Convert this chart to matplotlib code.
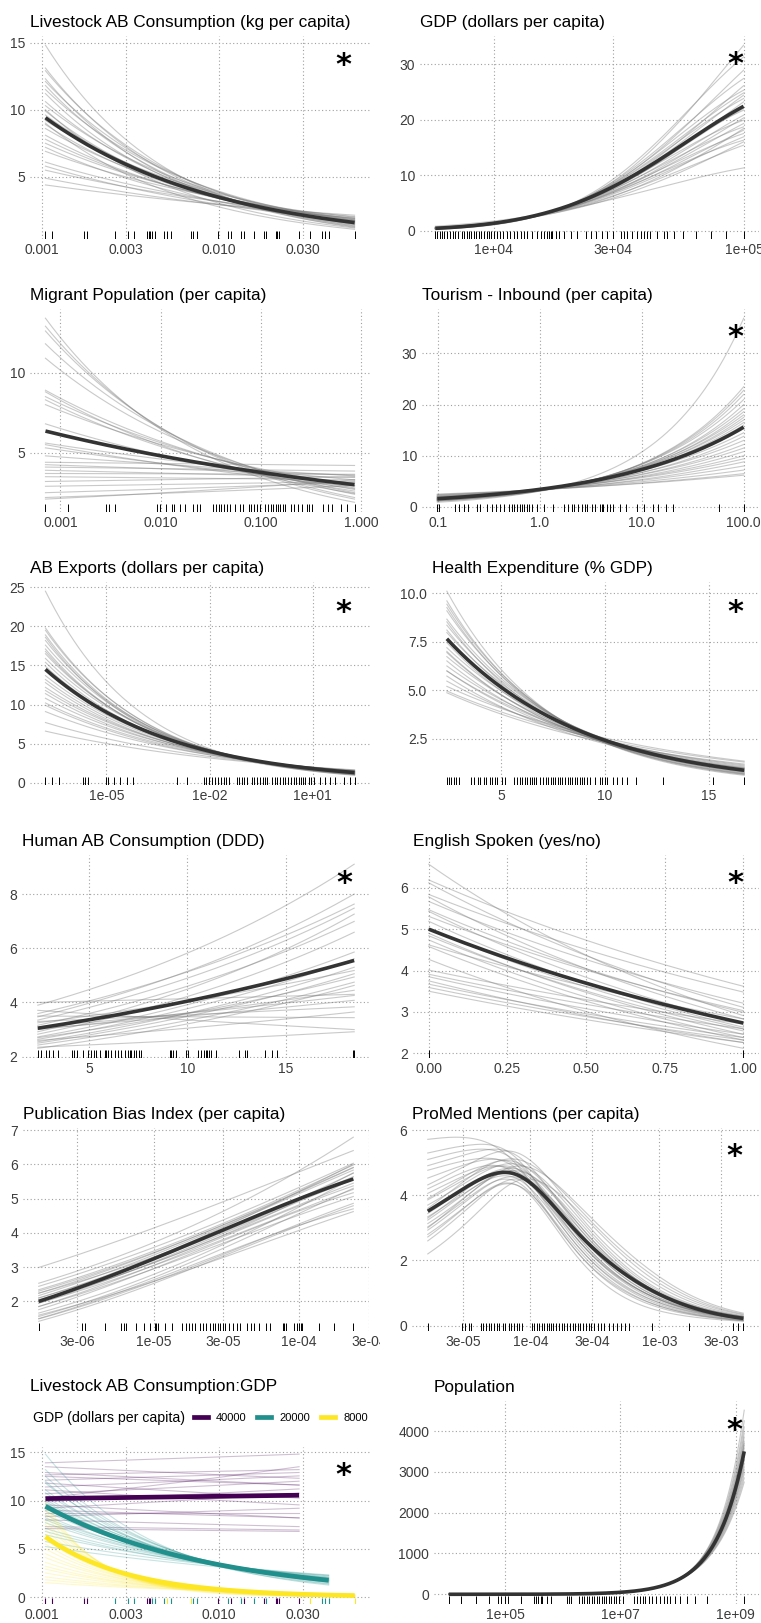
import numpy as np
import matplotlib
matplotlib.use("Agg")
import matplotlib.pyplot as plt
from matplotlib.lines import Line2D
from matplotlib.ticker import NullLocator
from matplotlib.transforms import Bbox, TransformedBbox

plt.rcParams['font.family'] = ['Liberation Sans', 'DejaVu Sans']

W, H = 761, 1623
ROW = 273

# ---------------- data ----------------
# Livestock AB consumption
liv_rug = [0.00105, 0.00114, 0.00174, 0.0018, 0.0026, 0.00306, 0.0033, 0.00392, 0.00401, 0.00409,
           0.00418, 0.00437, 0.00491, 0.00508, 0.00536, 0.00695, 0.00719, 0.00757, 0.00995, 0.0113,
           0.0117, 0.0133, 0.0138, 0.0157, 0.0179, 0.0185, 0.021, 0.0214, 0.0219, 0.0284,
           0.0328, 0.0382, 0.0399, 0.0417, 0.0584]
liv_left = [14.8, 13.1, 12.9, 12.3, 12.1, 11.8, 11.5, 11.2, 10.6, 10.3, 9.9, 9.6, 9.2, 8.9,
            8.6, 8.1, 7.5, 7.2, 6.9, 6.1, 5.8, 5.5, 4.9, 4.4, 10.0, 9.0, 7.8]
liv_right = [1.25, 1.35, 1.5, 1.3, 1.6, 1.45, 1.7, 1.4, 1.55, 1.75, 1.5, 1.65, 1.85, 1.6,
             1.8, 1.7, 1.9, 1.65, 2.0, 1.9, 1.75, 2.05, 1.95, 2.15, 1.2, 1.1, 1.8]
liv_mean = [9.4, 1.6]

# GDP
gdp_rug = [5846, 5933, 6080, 6210, 6350, 6500, 6710, 6870, 7030, 7180, 7470, 7630, 7780, 7940,
           8120, 8320, 8520, 8710, 8900, 9120, 9350, 9550, 9760, 10000, 10310, 10570, 10900,
           11240, 11590, 12020, 12400, 12780, 13180, 13590, 14230, 14900, 15370, 15850, 16340,
           16600, 16860, 17130, 17660, 18210, 19060, 20280, 21540, 23270, 24370, 25510, 27120,
           28400, 30000, 32290, 33090, 34150, 35730, 37400, 38610, 39810, 41050, 42070, 44990,
           47860, 49330, 52480, 56640, 64120, 73560, 84480, 99300]
gdp_mid_x = 30000
gdp_left = [0.3, 0.25, 0.35, 0.3, 0.4, 0.3, 0.4, 0.35, 0.45, 0.4, 0.45, 0.4, 0.5, 0.45, 0.55,
            0.5, 0.55, 0.5, 0.6, 0.8, 0.4, 0.35, 0.6, 0.5, 0.65]
gdp_mid = [8.9, 9.3, 8.5, 8.8, 8.0, 8.6, 7.9, 8.3, 7.6, 8.1, 7.4, 7.8, 7.0, 7.5, 6.8, 7.2, 6.6,
           6.9, 6.3, 5.7, 7.7, 8.4, 6.2, 7.1, 5.9]
gdp_right = [33.4, 31.3, 28.9, 27.4, 26.1, 25.3, 24.4, 23.8, 23.2, 21.7, 20.8, 19.9, 19.3, 18.7,
             18.1, 17.5, 16.9, 16.3, 15.4, 11.3, 22.0, 24.8, 18.4, 20.3, 16.0]
gdp_mean = [0.42, 7.95, 22.4]

# Migrant population
mig_rug = [7.1e-4, 1.19e-3, 2.87e-3, 3.03e-3, 3.48e-3, 9.2e-3, 9.77e-3, 0.0113, 0.013, 0.0135,
           0.0157, 0.0176, 0.021, 0.023, 0.0248, 0.0333, 0.0355, 0.038, 0.040, 0.043, 0.046,
           0.049, 0.0555, 0.0612, 0.0662, 0.0753, 0.080, 0.086, 0.091, 0.0984, 0.110, 0.117,
           0.125, 0.133, 0.140, 0.148, 0.156, 0.165, 0.175, 0.199, 0.215, 0.237, 0.256, 0.287,
           0.30, 0.322, 0.421, 0.466, 0.51, 0.627, 0.719, 0.859]
mig_left = [13.4, 12.9, 12.6, 11.8, 10.9, 8.9, 8.8, 8.5, 8.3, 8.0, 5.6, 5.5, 5.3, 4.4, 4.25,
            4.1, 3.9, 3.7, 3.5, 3.2, 2.9, 2.5, 2.2, 2.1, 6.8, 4.8]
mig_right = [1.9, 2.1, 2.2, 2.4, 2.5, 2.7, 2.45, 2.8, 2.6, 2.95, 3.3, 2.9, 3.1, 4.2, 3.6, 3.85,
             3.45, 3.65, 3.3, 3.5, 3.2, 3.15, 2.95, 3.3, 2.75, 3.55]
mig_mean = [6.35, 3.0]

# Tourism inbound
tou_rug = [0.0985, 0.102, 0.146, 0.162, 0.182, 0.196, 0.243, 0.261, 0.304, 0.34, 0.375, 0.41,
           0.449, 0.495, 0.533, 0.562, 0.597, 0.634, 0.668, 0.705, 0.748, 0.782, 0.837, 0.937,
           1.09, 1.34, 1.71, 1.87, 2.06, 2.17, 2.39, 2.58, 2.78, 2.93, 3.23, 3.48, 3.90, 4.05,
           4.2, 4.53, 4.88, 5.27, 6.12, 7.0, 8.9, 10.4, 12.8, 14.5, 17.3, 20.3, 57.3, 100]
tou_left = [0.9, 1.1, 1.15, 1.2, 1.3, 1.25, 1.4, 1.35, 1.5, 1.45, 1.55, 1.5, 1.6, 1.65, 1.7,
            1.6, 1.8, 1.75, 1.9, 1.85, 2.0, 2.1, 2.0, 2.2, 2.3, 2.4, 2.5]
tou_right = [36.9, 23.5, 22.8, 22.0, 21.0, 20.0, 19.2, 18.6, 18.0, 17.5, 17.0, 16.5, 16.0, 15.3,
             14.5, 13.8, 13.0, 12.2, 11.5, 10.8, 10.0, 9.4, 8.8, 8.0, 7.2, 6.5, 6.2]
tou_mean = [1.6, 15.6]

# AB exports
abx_rug = [1.7e-7, 2.64e-7, 4.13e-7, 2.1e-6, 2.46e-6, 2.87e-6, 1e-5, 1.09e-5, 1.63e-5, 2.55e-5,
           3.98e-5, 5.94e-5, 1.13e-3, 2.2e-3, 7.0e-3, 8.0e-3, 9.4e-3, 0.0115, 0.014, 0.017,
           0.021, 0.026, 0.031, 0.036, 0.062, 0.072, 0.085, 0.10, 0.12, 0.17, 0.2, 0.24, 0.3,
           0.36, 0.42, 0.46, 0.65, 0.78, 0.9, 1.13, 1.35, 1.6, 1.9, 2.3, 2.8, 3.3, 3.9, 4.6,
           5.3, 6.0, 7.5, 8.6, 10.5, 15.7, 22.9, 32, 44.7, 78, 122, 163]
abx_left = [24.5, 19.8, 19.5, 18.6, 18.2, 17.6, 17.1, 16.5, 15.9, 15.4, 13.7, 12.8, 11.8, 11.4,
            10.8, 9.9, 9.1, 7.7, 6.6, 16.8, 14.9, 12.2, 10.2, 18.9, 13.2]
abx_right = [0.95, 1.05, 1.1, 1.0, 1.15, 1.2, 1.1, 1.25, 1.3, 1.2, 1.35, 1.3, 1.45, 1.4, 1.5,
             1.45, 1.55, 1.6, 1.65, 1.15, 1.25, 1.4, 1.5, 1.05, 1.35]
abx_mean = [14.5, 1.3]

# Health expenditure
hea_rug = [2.38, 2.47, 2.58, 2.71, 2.84, 2.97, 3.54, 3.70, 3.86, 3.99, 4.15, 4.28, 4.44, 4.55,
           4.71, 4.82, 5.03, 5.19, 5.62, 5.75, 5.9, 6.0, 6.13, 6.23, 6.39, 6.5, 6.6, 6.7, 6.87,
           7.03, 7.15, 7.25, 7.38, 7.5, 7.6, 7.72, 7.85, 7.95, 8.08, 8.2, 8.3, 8.42, 8.55, 8.65,
           8.78, 8.9, 9.0, 9.12, 9.27, 9.51, 9.75, 9.88, 9.99, 10.12, 10.39, 10.58, 10.84, 11.06,
           11.48, 12.79, 15.19, 16.71]
hea_left = [10.1, 9.43, 9.26, 9.09, 8.66, 8.52, 8.35, 7.97, 7.45, 7.19, 6.94, 6.73, 6.51, 6.25,
            5.99, 5.73, 5.47, 4.96, 4.87, 8.1, 7.0, 6.0, 9.6, 5.2]
hea_right = [0.62, 0.7, 0.68, 0.75, 0.8, 0.72, 0.85, 0.9, 0.82, 0.95, 0.88, 1.0, 0.92, 1.05,
             1.1, 0.98, 1.15, 1.3, 1.2, 0.78, 0.86, 1.0, 0.66, 1.35]
hea_mean = [7.65, 0.88]

# Human AB consumption
hum_rug = [2.41, 2.58, 2.83, 2.97, 3.2, 3.42, 4.15, 4.27, 4.39, 4.69, 4.95, 5.12, 5.25, 5.37,
           5.54, 5.8, 5.88, 5.97, 6.14, 6.31, 6.47, 6.64, 6.81, 6.98, 7.07, 7.15, 7.29, 7.41,
           7.54, 7.66, 9.1, 9.19, 9.27, 9.41, 9.95, 10.03, 10.54, 10.71, 10.83, 10.93, 11.0,
           11.1, 11.22, 11.47, 12.63, 12.92, 13.0, 13.93, 14.27, 14.53, 18.39, 18.46]
hum_left = [3.9, 4.0, 3.71, 3.59, 3.47, 3.35, 3.16, 3.04, 2.92, 2.83, 2.73, 2.64, 2.55, 2.43,
            2.31, 3.5, 3.25, 2.7, 3.0, 2.6, 3.1, 2.5, 3.3, 2.35]
hum_right = [9.1, 4.3, 3.0, 7.63, 8.0, 7.48, 6.99, 4.08, 7.26, 6.59, 5.86, 5.61, 5.3, 4.75,
             4.63, 3.44, 5.18, 4.94, 4.45, 3.65, 4.26, 5.06, 3.84, 2.92]
hum_mean = [3.05, 5.55]

# English spoken
eng_rug = [0, 1]
eng_left = [6.57, 6.19, 6.12, 5.84, 5.78, 5.67, 5.47, 5.43, 5.31, 5.19, 5.02, 4.9, 4.84, 4.74,
            4.62, 4.58, 4.27, 4.01, 3.91, 3.85, 3.75, 3.67, 3.59, 3.5]
eng_right = [2.91, 3.62, 3.11, 3.48, 2.83, 3.21, 2.99, 2.71, 3.03, 2.63, 2.59, 2.46, 2.54, 2.38,
             2.83, 2.32, 2.12, 2.71, 2.59, 2.46, 2.26, 2.38, 2.32, 2.26]
eng_mean = [5.0, 2.73]

# Publication bias index
pub_rug = [1.63e-6, 3.25e-6, 3.37e-6, 4.62e-6, 6.01e-6, 6.23e-6, 6.43e-6, 7.6e-6, 8.55e-6,
           9.4e-6, 1.02e-5, 1.04e-5, 1.07e-5, 1.19e-5, 1.34e-5, 1.57e-5, 1.67e-5, 1.75e-5,
           1.84e-5, 1.94e-5, 2.07e-5, 2.18e-5, 2.3e-5, 2.44e-5, 2.55e-5, 2.66e-5, 2.76e-5,
           2.86e-5, 2.99e-5, 3.11e-5, 3.28e-5, 3.49e-5, 3.72e-5, 3.92e-5, 4.36e-5, 4.67e-5,
           4.92e-5, 5.32e-5, 5.91e-5, 6.3e-5, 7.69e-5, 7.89e-5, 8.1e-5, 9.25e-5, 9.64e-5,
           1.0e-4, 1.03e-4, 1.05e-4, 1.37e-4, 1.74e-4, 2.35e-4]
pub_mid_x = 1.95e-5
pub_draws = [[2.99, 4.6, 6.4], [2.53, 4.25, 6.79], [2.44, 4.05, 6.03], [2.34, 3.95, 5.98],
             [2.24, 3.9, 5.91], [2.17, 3.85, 5.83], [2.1, 3.8, 6.0], [2.24, 3.75, 5.74],
             [2.1, 3.7, 5.64], [1.95, 3.65, 5.55], [2.0, 3.6, 5.45], [1.85, 3.55, 5.37],
             [1.95, 3.5, 5.27], [1.76, 3.45, 5.17], [1.85, 3.4, 5.06], [1.66, 3.3, 5.6],
             [1.56, 3.2, 5.3], [1.49, 3.05, 4.86], [1.42, 3.0, 4.79], [1.6, 3.0, 4.62],
             [1.5, 3.1, 4.7], [2.3, 3.9, 5.9], [2.05, 3.6, 5.75]]
pub_mean = [2.0, 3.75, 5.57]

# ProMed mentions (values at left end, 3.5e-5, 8e-5, 2.5e-4, 1e-3, right end)
pro_rug = [1.6e-5, 2.95e-5, 3.13e-5, 3.32e-5, 3.47e-5, 4.15e-5, 4.32e-5, 4.53e-5, 4.75e-5,
           4.95e-5, 5.26e-5, 5.48e-5, 5.75e-5, 6.1e-5, 6.4e-5, 6.8e-5, 7.08e-5, 7.51e-5,
           7.83e-5, 8.22e-5, 8.62e-5, 1.03e-4, 1.07e-4, 1.12e-4, 1.17e-4, 1.23e-4, 1.28e-4,
           1.34e-4, 1.39e-4, 1.45e-4, 1.51e-4, 1.58e-4, 1.68e-4, 1.76e-4, 1.83e-4, 1.91e-4,
           2.03e-4, 2.13e-4, 2.23e-4, 2.33e-4, 2.44e-4, 2.58e-4, 2.7e-4, 2.83e-4, 2.97e-4,
           3.13e-4, 3.32e-4, 3.53e-4, 3.75e-4, 4.1e-4, 4.35e-4, 4.67e-4, 5.05e-4, 5.45e-4,
           5.85e-4, 8.77e-4, 1.69e-3, 3.7e-3, 4.05e-3, 4.48e-3]
pro_knots_x = [3.5e-5, 8e-5, 2.5e-4, 1.0e-3]
pro_draws = [[5.72, 5.75, 4.9, 2.3, 0.7, 0.2], [5.1, 5.4, 5.0, 2.6, 0.8, 0.22],
             [4.91, 5.3, 5.2, 2.9, 0.95, 0.25], [4.77, 5.1, 4.8, 2.5, 0.75, 0.2],
             [4.53, 5.0, 4.9, 2.8, 0.9, 0.24], [4.32, 5.0, 5.3, 3.3, 1.2, 0.3],
             [4.06, 4.7, 4.7, 2.4, 0.7, 0.18], [3.86, 4.6, 4.8, 2.7, 0.85, 0.22],
             [3.7, 4.5, 4.95, 3.2, 1.1, 0.28], [3.55, 4.4, 4.6, 2.5, 0.8, 0.2],
             [3.44, 4.35, 4.8, 3.0, 1.0, 0.26], [3.34, 4.2, 4.5, 2.3, 0.65, 0.17],
             [3.24, 4.2, 4.65, 2.8, 0.95, 0.25], [3.13, 4.1, 4.9, 3.6, 1.5, 0.38],
             [3.03, 4.0, 4.4, 2.1, 0.6, 0.16], [2.93, 3.95, 4.55, 2.7, 0.85, 0.22],
             [2.72, 3.8, 4.3, 1.95, 0.45, 0.13], [2.2, 3.3, 4.45, 3.4, 1.3, 0.33],
             [3.0, 4.1, 4.75, 3.1, 1.05, 0.27], [3.6, 4.6, 5.1, 3.5, 1.4, 0.35],
             [2.8, 3.8, 4.3, 2.2, 0.6, 0.15], [4.2, 4.8, 4.6, 2.1, 0.55, 0.15],
             [3.3, 4.3, 4.7, 2.6, 0.8, 0.21], [3.9, 4.7, 5.0, 3.0, 1.0, 0.26],
             [2.6, 3.7, 4.5, 2.9, 1.0, 0.28], [5.3, 5.55, 5.1, 2.5, 0.8, 0.21]]
pro_mean = [3.51, 4.35, 4.62, 2.72, 0.96, 0.22]

# Population
pop_rug = [1.05e4, 1.71e4, 3.11e4, 5.29e4, 7.37e4, 8.41e4, 1.0e5, 1.1e5, 1.87e5, 3.17e5, 3.48e5,
           3.77e5, 4.14e5, 4.42e5, 5.4e5, 6.16e5, 1.2e6, 1.28e6, 1.37e6, 1.9e6, 2.12e6, 2.3e6,
           2.6e6, 2.9e6, 3.2e6, 3.5e6, 3.9e6, 4.3e6, 4.7e6, 5.2e6, 5.7e6, 6.3e6, 7.0e6, 7.6e6,
           8.3e6, 9.3e6, 1.1e7, 1.7e7, 1.95e7, 2.2e7, 2.5e7, 2.7e7, 3.1e7, 3.6e7, 4.2e7, 4.9e7,
           5.6e7, 6.5e7, 7.4e7, 8.9e7, 1.09e8, 1.42e8, 1.98e8, 3.15e8, 1.41e9]
pop_left = [0.06, 0.08, 0.09, 0.1, 0.11, 0.12, 0.12, 0.13, 0.14, 0.15, 0.16, 0.17, 0.18, 0.19,
            0.2, 0.22, 0.24, 0.27, 0.1, 0.15]
pop_right = [4510, 4250, 4100, 3950, 3850, 3750, 3650, 3580, 3500, 3420, 3350, 3280, 3200, 3120,
             3050, 2950, 2850, 2750, 3700, 3300]
pop_mean = [0.13, 3500]

# Livestock AB consumption : GDP interaction (40000, 20000, 8000)
int_labels = ["40000", "20000", "8000"]
int_rug_group = [0, 0, 0, 0, 1, 1, 1, 0, 0, 0, 1, 1, 1, 2, 1, 2, 1, 1, 0, 1,
                 0, 1, 0, 1, 0, 1, 0, 0, 0, 0, 2, 1, 1, 1, 2]
g40_left = [13.9, 13.5, 12.65, 12.5, 12.1, 11.8, 11.4, 11.1, 10.7, 9.9, 9.55, 9.2, 8.7, 8.35,
            8.0, 7.3, 7.1, 10.3, 12.9, 9.0]
g40_right = [14.8, 12.3, 13.2, 11.6, 12.9, 10.25, 12.55, 9.55, 12.0, 11.2, 8.2, 10.75, 8.7, 9.2,
             7.3, 6.95, 6.8, 13.5, 11.6, 8.2]
g40_mean = [10.2, 10.55]
g20_left = [14.8, 13.2, 12.5, 12.0, 11.8, 11.1, 10.8, 10.4, 10.1, 9.7, 9.2, 8.9, 8.5, 8.2, 7.7,
            7.1, 6.8, 6.45, 5.75, 5.24, 9.9, 8.0]
g20_right = [1.25, 1.4, 1.5, 1.35, 1.6, 1.55, 1.7, 1.65, 1.8, 1.75, 1.85, 1.9, 1.8, 2.0, 1.95,
             2.1, 2.05, 2.2, 2.3, 2.25, 1.7, 1.9]
g20_mean = [9.4, 1.75]
g8_left = [9.9, 9.4, 9.0, 8.5, 7.9, 7.5, 7.0, 6.5, 6.0, 5.5, 5.0, 4.5, 4.1, 3.6, 3.2, 2.9, 2.5,
           2.1, 1.8, 1.5]
g8_right = [0.03, 0.04, 0.05, 0.06, 0.07, 0.08, 0.09, 0.1, 0.11, 0.12, 0.14, 0.15, 0.17, 0.19,
            0.2, 0.22, 0.25, 0.27, 0.3, 0.33]
g8_mean = [6.25, 0.16]

# ---------------- helpers ----------------
GREY = '#7a7a7a'
DARK = '#333333'
VIR = ['#440154', '#21908C', '#FDE725']
TICK_FS = 10

fig = plt.figure(figsize=(W / 100, H / 100), dpi=100)


def add_ax(left, top, right, bottom):
    return fig.add_axes([left / W, 1 - bottom / H, (right - left) / W, (bottom - top) / H])


def nat_spline(t, y, tt):
    # natural cubic spline through the knots
    n = len(t)
    h = np.diff(t)
    A = np.zeros((n, n))
    b = np.zeros(n)
    A[0, 0] = A[-1, -1] = 1
    for i in range(1, n - 1):
        A[i, i - 1], A[i, i], A[i, i + 1] = h[i - 1], 2 * (h[i - 1] + h[i]), h[i]
        b[i] = 3 * ((y[i + 1] - y[i]) / h[i] - (y[i] - y[i - 1]) / h[i - 1])
    c = np.linalg.solve(A, b)
    bb = (y[1:] - y[:-1]) / h - h * (2 * c[:-1] + c[1:]) / 3
    dd = (c[1:] - c[:-1]) / (3 * h)
    k = np.clip(np.searchsorted(t, tt) - 1, 0, n - 2)
    dx = tt - t[k]
    return y[k] + bb[k] * dx + c[k] * dx ** 2 + dd[k] * dx ** 3


def curve(xa, ya, logx, n=260):
    t = np.log10(xa) if logx else np.asarray(xa, float)
    ly = np.log(np.asarray(ya, float))
    tt = np.linspace(t[0], t[-1], n)
    if len(ya) > 3:
        yy = nat_spline(t, ly, tt)
    else:
        yy = np.polyval(np.polyfit(t, ly, len(ya) - 1), tt)
    return (10 ** tt if logx else tt), np.exp(yy)


def expand(lo, hi, logx=False):
    if logx:
        lo, hi = np.log10(lo), np.log10(hi)
    d = (hi - lo) * 0.05
    lo, hi = lo - d, hi + d
    return (10 ** lo, 10 ** hi) if logx else (lo, hi)


def style(ax, xt, xl, yt, yl, logx):
    if logx:
        ax.set_xscale('log')
    ax.set_xticks(xt)
    ax.set_xticklabels(xl)
    ax.set_yticks(yt)
    ax.set_yticklabels(yl)
    ax.xaxis.set_minor_locator(NullLocator())
    ax.yaxis.set_minor_locator(NullLocator())
    ax.tick_params(length=0, labelsize=TICK_FS, labelcolor='#3c3c3c')
    ax.tick_params(axis='x', pad=3.0)
    ax.tick_params(axis='y', pad=3.5)
    for s in ax.spines.values():
        s.set_visible(False)
    ax.grid(True, color='#a0a0a0', lw=0.8, ls=(0, (1, 2.2)))
    ax.set_axisbelow(True)
    ax.patch.set_alpha(0)


def star(xp, yp):
    fig.text(xp / W, 1 - (yp + 14) / H, '*', fontsize=22, fontweight='bold',
             family='DejaVu Sans', ha='center', va='baseline')


def title(xp, yp, s):
    fig.text(xp / W, 1 - yp / H, s, fontsize=12.4, ha='left', va='baseline', color='black')


def two(left, right):
    return [list(v) for v in zip(left, right)]


panels = [
    dict(title="Livestock AB Consumption (kg per capita)", row=0, left=30, right=370, logx=True,
         rug=liv_rug, ax_x=[min(liv_rug), max(liv_rug)], draws=two(liv_left, liv_right), mean=liv_mean,
         xt=[0.001, 0.003, 0.01, 0.03], xl=["0.001", "0.003", "0.010", "0.030"],
         yt=[5, 10, 15], yl=["5", "10", "15"], star=(343, 60)),
    dict(title="GDP (dollars per capita)", row=0, left=420, right=759, logx=True,
         rug=gdp_rug, ax_x=[min(gdp_rug), gdp_mid_x, max(gdp_rug)],
         draws=[list(v) for v in zip(gdp_left, gdp_mid, gdp_right)], mean=gdp_mean,
         xt=[1e4, 3e4, 1e5], xl=["1e+04", "3e+04", "1e+05"],
         yt=[0, 10, 20, 30], yl=["0", "10", "20", "30"], star=(735, 59)),
    dict(title="Migrant Population (per capita)", row=1, left=30, right=370, logx=True,
         rug=mig_rug, ax_x=[min(mig_rug), max(mig_rug)], draws=two(mig_left, mig_right), mean=mig_mean,
         xt=[0.001, 0.01, 0.1, 1.0], xl=["0.001", "0.010", "0.100", "1.000"],
         yt=[5, 10], yl=["5", "10"], star=None),
    dict(title="Tourism - Inbound (per capita)", row=1, left=422, right=759, logx=True,
         rug=tou_rug, ax_x=[min(tou_rug), max(tou_rug)], draws=two(tou_left, tou_right), mean=tou_mean,
         xt=[0.1, 1, 10, 100], xl=["0.1", "1.0", "10.0", "100.0"],
         yt=[0, 10, 20, 30], yl=["0", "10", "20", "30"], star=(735, 332)),
    dict(title="AB Exports (dollars per capita)", row=2, left=30, right=370, logx=True,
         rug=abx_rug, ax_x=[min(abx_rug), max(abx_rug)], draws=two(abx_left, abx_right), mean=abx_mean,
         xt=[1e-5, 1e-2, 1e1], xl=["1e-05", "1e-02", "1e+01"],
         yt=[0, 5, 10, 15, 20, 25], yl=["0", "5", "10", "15", "20", "25"], star=(343, 607)),
    dict(title="Health Expenditure (% GDP)", row=2, left=432, right=759, logx=False,
         rug=hea_rug, ax_x=[min(hea_rug), max(hea_rug)], draws=two(hea_left, hea_right), mean=hea_mean,
         xt=[5, 10, 15], xl=["5", "10", "15"],
         yt=[2.5, 5, 7.5, 10], yl=["2.5", "5.0", "7.5", "10.0"], star=(735, 607)),
    dict(title="Human AB Consumption (DDD)", row=3, left=22, right=370, logx=False,
         rug=hum_rug, ax_x=[min(hum_rug), max(hum_rug)], draws=two(hum_left, hum_right), mean=hum_mean,
         xt=[5, 10, 15], xl=["5", "10", "15"],
         yt=[2, 4, 6, 8], yl=["2", "4", "6", "8"], star=(344, 878)),
    dict(title="English Spoken (yes/no)", row=3, left=413, right=759, logx=False,
         rug=eng_rug, ax_x=[min(eng_rug), max(eng_rug)], draws=two(eng_left, eng_right), mean=eng_mean,
         xt=[0, 0.25, 0.5, 0.75, 1], xl=["0.00", "0.25", "0.50", "0.75", "1.00"],
         yt=[2, 3, 4, 5, 6], yl=["2", "3", "4", "5", "6"], star=(735, 878)),
    dict(title="Publication Bias Index (per capita)", row=4, left=23, right=369, logx=True,
         rug=pub_rug, ax_x=[min(pub_rug), pub_mid_x, max(pub_rug)], draws=pub_draws, mean=pub_mean,
         xt=[3e-6, 1e-5, 3e-5, 1e-4, 3e-4], xl=["3e-06", "1e-05", "3e-05", "1e-04", "3e-04"],
         yt=[2, 3, 4, 5, 6, 7], yl=["2", "3", "4", "5", "6", "7"], star=None, clip=380),
    dict(title="ProMed Mentions (per capita)", row=4, left=412, right=759, logx=True,
         rug=pro_rug, ax_x=[min(pro_rug)] + pro_knots_x + [max(pro_rug)], draws=pro_draws, mean=pro_mean,
         xt=[3e-5, 1e-4, 3e-4, 1e-3, 3e-3], xl=["3e-05", "1e-04", "3e-04", "1e-03", "3e-03"],
         yt=[0, 2, 4, 6], yl=["0", "2", "4", "6"], star=(734, 1151)),
    dict(title="Population", row=5, left=434, right=759, logx=True,
         rug=pop_rug, ax_x=[min(pop_rug), max(pop_rug)], draws=two(pop_left, pop_right), mean=pop_mean,
         xt=[1e5, 1e7, 1e9], xl=["1e+05", "1e+07", "1e+09"],
         yt=[0, 1000, 2000, 3000, 4000], yl=["0", "1000", "2000", "3000", "4000"], star=(734, 1425)),
]

for p in panels:
    off = ROW * p['row']
    ax = add_ax(p['left'], off + 36, p['right'], off + 238.5)
    ys = []
    for vals in p['draws']:
        x, y = curve(p['ax_x'], vals, p['logx'])
        ax.plot(x, y, color=GREY, lw=0.8, alpha=0.4, zorder=2)
        ys.append(y)
    x, y = curve(p['ax_x'], p['mean'], p['logx'])
    ax.plot(x, y, color=DARK, lw=2.6, zorder=3, solid_capstyle='butt')
    ys = np.concatenate(ys + [y])
    ax.vlines(p['rug'], 0, 0.035, transform=ax.get_xaxis_transform(), colors='black', lw=0.7, zorder=4)
    style(ax, p['xt'], p['xl'], p['yt'], p['yl'], p['logx'])
    ax.set_xlim(*expand(p['ax_x'][0], p['ax_x'][-1], p['logx']))
    ax.set_ylim(*expand(ys.min(), ys.max()))
    title(p['left'], off + 27, p['title'])
    if p['star']:
        star(*p['star'])
    if p.get('clip'):
        box = TransformedBbox(Bbox.from_extents(0, 0, p['clip'] / W, 1), fig.transFigure)
        for lab in ax.get_xticklabels():
            lab.set_clip_box(box)
            lab.set_clip_on(True)

# ---- interaction panel ----
off = ROW * 5
ax = add_ax(30, off + 82, 370, off + 239)
groups = [(g40_left, g40_right, g40_mean), (g20_left, g20_right, g20_mean), (g8_left, g8_right, g8_mean)]
x0 = min(liv_rug)
ys = []
ends = [max(x for x, gg in zip(liv_rug, int_rug_group) if gg == g) for g in range(3)]
for g, (gl, gr, gm) in enumerate(groups):
    for vals in zip(gl, gr):
        x, y = curve([x0, ends[g]], list(vals), True)
        ax.plot(x, y, color=VIR[g], lw=0.8, alpha=0.25, zorder=2)
        ys.append(y)
for g, (gl, gr, gm) in enumerate(groups):
    x, y = curve([x0, ends[g]], gm, True)
    ax.plot(x, y, color=VIR[g], lw=3.4, zorder=3, solid_capstyle='butt')
    ys.append(y)
for g in range(3):
    xs = [x for x, gg in zip(liv_rug, int_rug_group) if gg == g]
    ax.vlines(xs, 0, 0.04, transform=ax.get_xaxis_transform(), colors=VIR[g], lw=0.8, zorder=4)
ys = np.concatenate(ys)
style(ax, [0.001, 0.003, 0.01, 0.03], ["0.001", "0.003", "0.010", "0.030"],
      [0, 5, 10, 15], ["0", "5", "10", "15"], True)
ax.set_xlim(*expand(min(liv_rug), max(liv_rug), True))
ax.set_ylim(*expand(ys.min(), ys.max()))
title(30, off + 26, "Livestock AB Consumption:GDP")
star(343, 1470)

fig.text(33 / W, 1 - 1418 / H, "GDP (dollars per capita)", fontsize=10.2, ha='left', va='center')
handles = [Line2D([], [], color=c, lw=3.4) for c in VIR]
fig.legend(handles, int_labels, loc='center left', bbox_to_anchor=(194 / W, 1 - 1418 / H), ncol=3,
           frameon=False, fontsize=8.0, handlelength=1.25, handletextpad=0.75, columnspacing=0.95,
           borderpad=0, borderaxespad=0)

fig.savefig("out.png", dpi=100)
